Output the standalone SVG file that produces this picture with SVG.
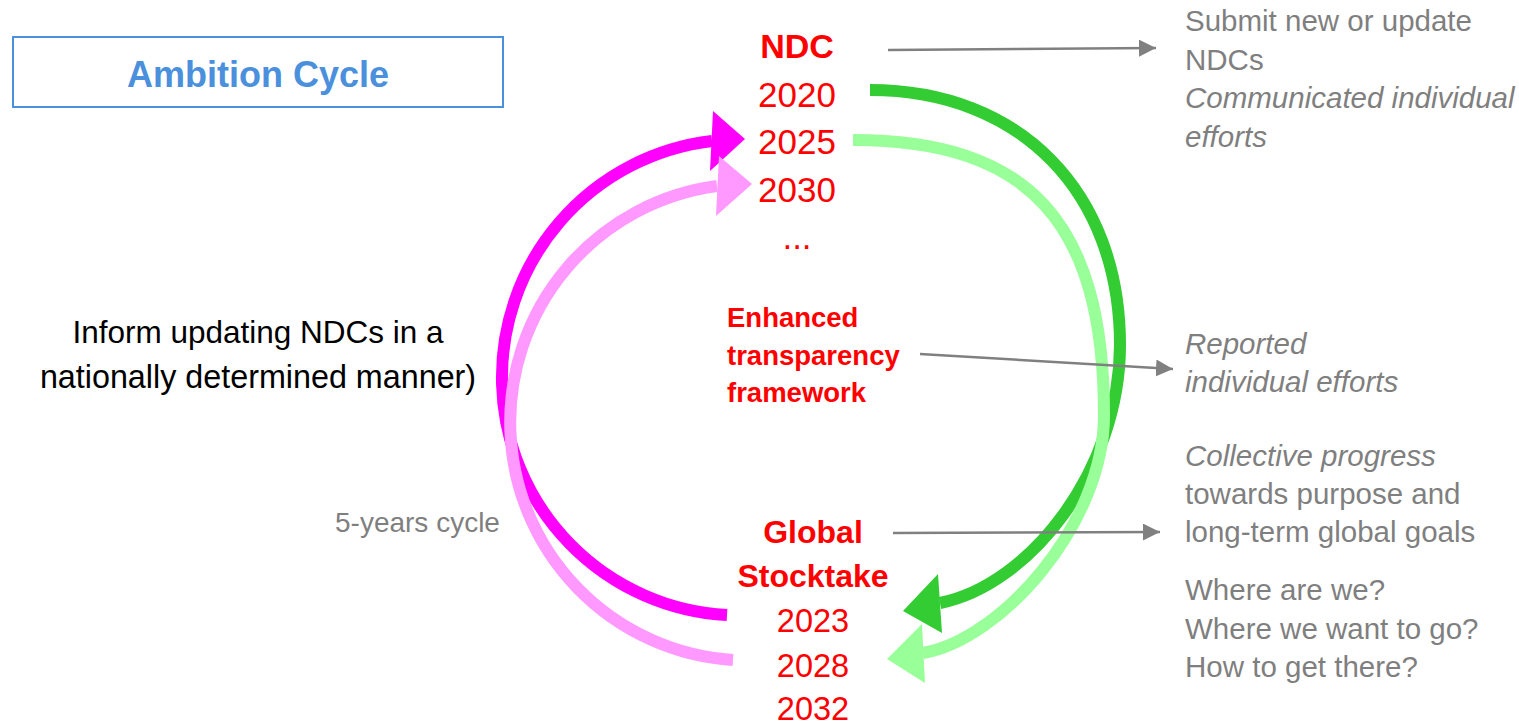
<svg xmlns="http://www.w3.org/2000/svg" width="1519" height="724" viewBox="0 0 1519 724">
<style>
  .t { font-family: "Liberation Sans", Arial, sans-serif; }
  .red { fill: #FF0000; }
  .b { font-weight: bold; }
  .gray { fill: #7F7F7F; }
  .it { font-style: italic; }
  .mid { text-anchor: middle; }
  .arc { fill: none; stroke-width: 12; stroke-linecap: butt; }
  .conn { fill: none; stroke: #808080; stroke-width: 2.5; marker-end: url(#gh); }
</style>
<defs>
  <marker id="gh" markerUnits="userSpaceOnUse" markerWidth="17" markerHeight="17" refX="16" refY="8" orient="auto" viewBox="0 0 16 16">
    <path d="M0,0 L16,8 L0,16 z" fill="#808080"/>
  </marker>
</defs>
<rect width="1519" height="724" fill="#FFFFFF"/>

<g id="title">
  <rect x="13" y="37" width="490" height="70" fill="none" stroke="#4A90DC" stroke-width="2"/>
  <text class="t b mid" x="258" y="87" font-size="36" fill="#4A90DC">Ambition Cycle</text>
</g>

<g id="cycle-arcs">
  <path id="magenta-arc" class="arc" stroke="#FF00FF" d="M727,615 A238,238 0 0 1 712,141"/>
  <polygon fill="#FF00FF" points="745,139 713,111 710,171"/>
  <path id="pink-arc" class="arc" stroke="#FF99FF" d="M733,660 A238.3,238.3 0 0 1 717,186"/>
  <polygon fill="#FF99FF" points="752,184 719,156 716,216"/>
  <path id="darkgreen-arc" class="arc" stroke="#33CC33" d="M870,90 C1020,90 1120,192 1120,345 C1120,470 1030,585 940,603"/>
  <polygon fill="#33CC33" points="903,611 938,574 942,633"/>
  <path id="lightgreen-arc" class="arc" stroke="#99FF99" d="M853,140 C1029,140 1104,222 1104,415 C1104,525 1000,640 923,653"/>
  <polygon fill="#99FF99" points="887,659 922,624 925,683"/>
</g>

<g id="ndc">
  <text class="t b red mid" x="797" y="58" font-size="34">NDC</text>
  <text class="t red mid" x="797" y="107" font-size="35">2020</text>
  <text class="t red mid" x="797" y="154" font-size="35">2025</text>
  <text class="t red mid" x="797" y="202" font-size="35">2030</text>
  <text class="t red mid" x="797" y="249" font-size="35">...</text>
</g>

<g id="etf">
  <text class="t b red" x="727" y="327" font-size="27.5">Enhanced</text>
  <text class="t b red" x="727" y="365" font-size="27.5">transparency</text>
  <text class="t b red" x="727" y="402" font-size="27.5">framework</text>
</g>

<g id="gst">
  <text class="t b red mid" x="813" y="543" font-size="32">Global</text>
  <text class="t b red mid" x="813" y="587" font-size="32">Stocktake</text>
  <text class="t red mid" x="813" y="632" font-size="32.5">2023</text>
  <text class="t red mid" x="813" y="677" font-size="32.5">2028</text>
  <text class="t red mid" x="813" y="720" font-size="32.5">2032</text>
</g>

<g id="inform">
  <text class="t mid" x="258" y="343" font-size="31.5" fill="#000000">Inform updating NDCs in a</text>
  <text class="t mid" x="258" y="388" font-size="32.3" fill="#000000">nationally determined manner)</text>
</g>

<g id="cycle-label">
  <text class="t gray" x="335" y="532" font-size="28">5-years cycle</text>
</g>

<g id="ndc-note">
  <text class="t gray" x="1185" y="31" font-size="29.5">Submit new or update</text>
  <text class="t gray" x="1185" y="70" font-size="29.5">NDCs</text>
  <text class="t gray it" x="1185" y="108" font-size="29.5">Communicated individual</text>
  <text class="t gray it" x="1185" y="147" font-size="29.5">efforts</text>
</g>

<g id="etf-note">
  <text class="t gray it" x="1185" y="354" font-size="29.5">Reported</text>
  <text class="t gray it" x="1185" y="392" font-size="29.5">individual efforts</text>
</g>

<g id="gst-note">
  <text class="t gray it" x="1185" y="466" font-size="29.5">Collective progress</text>
  <text class="t gray" x="1185" y="504" font-size="29.5">towards purpose and</text>
  <text class="t gray" x="1185" y="542" font-size="29.5">long-term global goals</text>
  <text class="t gray" x="1185" y="600" font-size="29.5">Where are we?</text>
  <text class="t gray" x="1185" y="639" font-size="29.5">Where we want to go?</text>
  <text class="t gray" x="1185" y="677" font-size="29.5">How to get there?</text>
</g>

<g id="connectors">
  <path class="conn" d="M888,50 L1156,48"/>
  <path class="conn" d="M920,354 L1173,369"/>
  <path class="conn" d="M893,533 L1160,532"/>
</g>
</svg>
